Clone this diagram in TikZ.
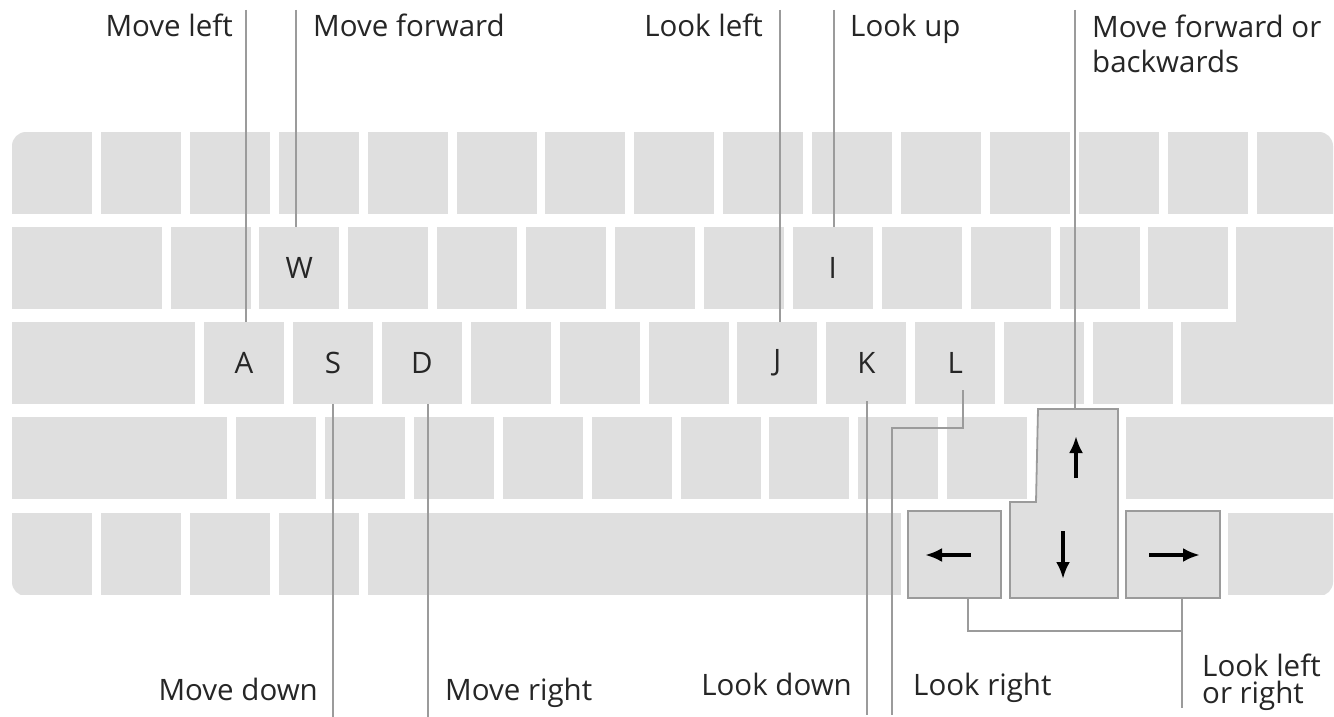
\documentclass[tikz,border=0pt]{standalone}
\usepackage{fontspec}
\setmainfont{Open Sans}
\usetikzlibrary{arrows.meta}
\definecolor{keygray}{RGB}{223,223,223}
\definecolor{linegray}{RGB}{155,155,155}
\definecolor{txt}{RGB}{38,38,38}
\begin{document}
\begin{tikzpicture}[x=1pt,y=-1pt,
  key/.style={fill=keygray, draw=none, inner sep=0pt, minimum height=82pt, minimum width=80pt, text=txt, font=\fontsize{29.5}{34}\selectfont},
  hikey/.style={fill=keygray, draw=linegray, line width=1.8pt, inner sep=0pt},
  conn/.style={draw=linegray, line width=2pt},
  lbl/.style={text=txt, font=\fontsize{29.5}{34}\selectfont, inner sep=0pt},
  karrow/.style={line width=3.5pt, -{Latex[length=17pt,width=14pt]}}
]
\useasboundingbox (0,0) rectangle (1334,717);
\fill[white] (0,0) rectangle (1334,717);

% ---------- keyboard (clipped to rounded outline) ----------
\begin{scope}
\clip[rounded corners=14pt] (12,132) rectangle (1333,596);
% row 1
\foreach \i in {0,...,14} \node[key] (r1k\i) at ({52+88.9*\i},173) {};
% row 2
\node[key, minimum width=150pt] (r2k0) at (87,268) {};
\foreach \j in {0,2,3,4,5,6,8,9,10,11} \node[key] (r2k\j) at ({210.5+88.9*\j},268) {};
\node[key] (W) at (299.4,268) {W};
\node[key] (I) at (832.8,268) {I};
% enter key
\fill[keygray] (1236,227) -- (1340,227) -- (1340,404) -- (1181,404) -- (1181,322) -- (1236,322) -- cycle;
% row 3
\node[key, minimum width=183pt] (r3k0) at (103.5,363) {};
\foreach \k in {3,4,5,9,10} \node[key] (r3k\k) at ({244+88.9*\k},363) {};
\node[key] (A) at (244,363) {A};
\node[key] (S) at (332.9,363) {S};
\node[key] (D) at (421.8,363) {D};
\node[key] (J) at (777.4,363) {J};
\node[key] (K) at (866.3,363) {K};
\node[key] (L) at (955.2,363) {L};
% row 4
\node[key, minimum width=215pt] (r4k0) at (119.5,458) {};
\foreach \m in {0,...,8} \node[key] (r4k\m) at ({276+88.9*\m},458) {};
\node[key, minimum width=210pt] (rshift) at (1231,458) {};
% row 5
\foreach \n in {0,...,3} \node[key] (r5k\n) at ({52+88.9*\n},554) {};
\node[key, minimum width=533.4pt] (space) at (634.3,554) {};
\node[key, minimum width=110pt] (r5end) at (1283,554) {};
\end{scope}

% ---------- highlighted arrow keys ----------
\node[hikey, minimum width=93pt, minimum height=87pt] (larr) at (954.5,554.5) {};
\node[hikey, minimum width=94pt, minimum height=87pt] (rarr) at (1173,554.5) {};
\draw[hikey, line join=miter] (1038,409) -- (1118,409) -- (1118,598) -- (1010,598) -- (1010,502) -- (1036,502) -- cycle;
\coordinate (updownTop) at (1075,409);
\draw[karrow] (1076,478) -- (1076,436);
\draw[karrow] (1063,531) -- (1063,579);
\draw[karrow] (971,555) -- (925,555);
\draw[karrow] (1149,555) -- (1200,555);

% ---------- labels ----------
\node[lbl, anchor=base east] (lMoveLeft) at (233,37) {Move left};
\node[lbl, anchor=base west] (lMoveFwd) at (313,37) {Move forward};
\node[lbl, anchor=base east] (lLookLeft) at (763,37) {Look left};
\node[lbl, anchor=base west] (lLookUp) at (850,37) {Look up};
\node[lbl, anchor=north west, align=left, font=\fontsize{29.5}{35}\selectfont] (lFwdBack) at (1092,14.5) {Move forward or\\backwards};
\node[lbl, anchor=base east] (lMoveDown) at (318,700) {Move down};
\node[lbl, anchor=base west] (lMoveRight) at (445,700) {Move right};
\node[lbl, anchor=base east] (lLookDown) at (852,695) {Look down};
\node[lbl, anchor=base west] (lLookRight) at (913,695) {Look right};
\node[lbl, anchor=north west, align=left, font=\fontsize{29.5}{27}\selectfont] (lLookLR) at (1202,653.5) {Look left\\or right};

% ---------- connectors ----------
\coordinate (tML) at (246,10);
\coordinate (tMF) at (296,10);
\coordinate (tLL) at (780,10);
\coordinate (tLU) at (834,10);
\coordinate (tMB) at (1075,10);
\draw[conn] (tML) -- (tML |- A.north);
\draw[conn] (tMF) -- (tMF |- W.north);
\draw[conn] (tLL) -- (tLL |- J.north);
\draw[conn] (tLU) -- (tLU |- I.north);
\draw[conn] (tMB) -- (updownTop);

\coordinate (bMD) at (333,717);
\coordinate (bMR) at (428,717);
\coordinate (bLD) at (867,715);
\coordinate (bLR) at (892,715);
\coordinate (jLR) at (1182,631);
\coordinate (bLLR) at (1182,708);
\draw[conn] (bMD |- S.south) -- (bMD);
\draw[conn] (bMR |- D.south) -- (bMR);
\draw[conn] ([yshift=3pt]bLD |- K.south) -- (bLD);
\draw[conn] ([xshift=8pt,yshift=14pt]L.south) |- (bLR |- 0,428) -- (bLR);
\draw[conn] ([xshift=13.5pt]larr.south) |- (jLR);
\draw[conn] ([xshift=9pt]rarr.south) -- (bLLR);
\end{tikzpicture}
\end{document}
